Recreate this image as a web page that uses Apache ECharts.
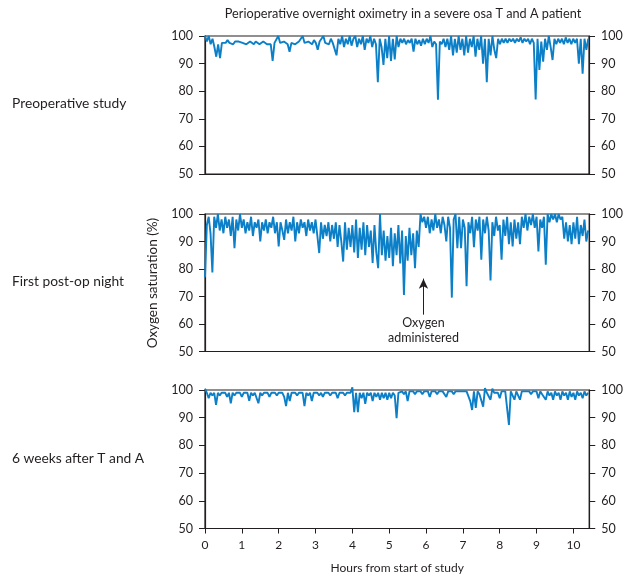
<!DOCTYPE html>
<html>
<head>
<meta charset="utf-8">
<script src="https://cdn.jsdelivr.net/npm/echarts@6/dist/echarts.min.js"></script>
<style>
html,body{margin:0;padding:0;background:#fff;}
#chart{width:626px;height:577px;}
</style>
</head>
<body>
<div id="chart"></div>
<script>
// ---- data (oxygen saturation %, one sample every SAMPLE_STEP hours) ----
const SAMPLE_STEP = 0.05;
const titleText = 'Perioperative overnight oximetry in a severe osa T and A patient';
const panelNames = ['Preoperative study', 'First post-op night', '6 weeks after T and A'];
const xTickValues = [0, 1, 2, 3, 4, 5, 6, 7, 8, 9, 10];
const yTickValues = [50, 60, 70, 80, 90, 100];
const xAxisName = 'Hours from start of study';
const yAxisName = 'Oxygen saturation (%)';
const annotationText = 'Oxygen\nadministered';
const annotationHour = 5.93;
const annotationArrow = [63.4, 76.5];
const annotationTextLevel = 57.5;

const preoperative = [
 100, 98, 100, 97, 99, 96, 92.5, 97, 92, 97.5,
 98, 97.5, 98.5, 97.5, 98, 97, 98, 97.5, 98, 97.5,
 97.5, 98, 97, 97.5, 98, 97.5, 97, 98, 97.5, 97,
 97.5, 98, 97.5, 97, 97.5, 97, 91, 97.5, 97, 100,
 97.5, 97, 98, 97.5, 97, 94.3, 97.5, 98, 97, 97.5,
 98, 97.5, 100, 97.5, 97, 98, 97.5, 97, 98.5, 97.5,
 95, 98, 97.5, 100, 97.5, 98, 97, 99, 97.5, 98,
 93, 99, 97, 100, 96, 99, 97, 100, 96.5, 99,
 100, 96, 99, 97, 100, 95, 99, 97.5, 100, 96,
 99, 97, 83.3, 99, 96, 89.5, 99, 92, 100, 91,
 99, 91.5, 100, 96, 99, 97.5, 99, 97, 98.5, 97.5,
 99, 94.3, 99, 97, 98.5, 96.5, 99, 97, 99, 97.5,
 100, 96, 98, 97, 76.9, 98, 97, 99, 96, 99,
 95, 100, 93, 99, 94, 100, 95, 99, 93, 100,
 94, 99, 96, 100, 92.5, 99, 95, 100, 90, 99,
 83.3, 99, 93, 100, 95, 92, 99, 97, 99, 97.5,
 99, 97.5, 99, 98, 99, 97.5, 99, 98, 99.5, 97.5,
 99, 98, 99, 97, 99, 97.5, 77, 99, 87.7, 98,
 90.7, 99, 95, 100, 96, 91.3, 99, 97, 99, 97.5,
 99, 97, 99.5, 97.5, 99, 97, 99, 97.5, 99, 90,
 99, 86.3, 99, 95, 99
];

const firstPostOp = [
 77, 96, 99, 93, 78.7, 99, 95, 100, 94, 98,
 93, 99, 95, 98, 92, 99, 87.6, 98, 94, 100,
 95, 98, 93, 97, 94, 99, 92, 97, 95, 98,
 90, 97, 94, 98, 93, 97, 95, 99, 93, 97,
 88.2, 97, 94, 90.6, 98, 93, 97, 94, 99, 90,
 97, 93, 98, 95, 97, 92, 98, 94, 97, 93,
 98, 92, 85.8, 97, 91, 96, 92, 97, 90, 96,
 91, 97, 88, 96, 90, 82.7, 97, 87, 95, 88,
 96, 86, 98, 84, 95, 87, 97, 85, 96, 88,
 94, 82.2, 96, 86, 80.3, 100, 85, 94, 83, 92,
 84, 95, 81, 93, 85, 96, 82, 94, 70.6, 92,
 83, 95, 85, 93, 80.3, 94, 88, 100, 97, 99,
 95, 99, 93, 98, 94, 100, 95, 98, 93, 99,
 96, 90, 99, 95, 69.6, 98, 100, 87.6, 99, 87.6,
 98, 95, 73.7, 97, 93, 99, 87.9, 98, 94, 99,
 83.4, 98, 93, 99, 94, 75.8, 97, 92, 99, 94,
 96, 83.4, 98, 92, 99, 89, 97, 88.2, 98, 91,
 97, 89, 99, 95, 100, 94, 99, 96, 100, 95,
 99, 86.4, 98, 95, 99, 81.6, 100, 97, 100, 98,
 100, 97, 100, 98, 99, 91, 97, 90, 96, 89,
 97, 91, 99, 89, 96, 92, 98, 90, 94
];

const sixWeeksAfter = [
 100.5, 99, 97, 99, 98, 99, 94.6, 99, 98, 99,
 98.5, 99, 97.5, 99, 95.2, 99, 98, 99, 98.5, 99,
 97.5, 99, 98.5, 99, 96.1, 99, 98, 99, 98.5, 95.2,
 99, 98, 99, 98.5, 99, 97.5, 99, 98.5, 99, 98,
 99, 98.5, 99, 97.5, 94.2, 99, 96, 99, 98.5, 99,
 98, 99, 98.5, 99, 94.2, 99, 98, 99, 96, 99,
 98.5, 99, 98, 99, 97.5, 99, 98.5, 99, 98, 99,
 98.5, 99, 97, 99, 98.5, 99, 98, 99, 98.5, 99,
 101, 92, 99, 92, 99, 97, 99, 95, 99, 98,
 99, 96, 99, 97.5, 99, 96.5, 99, 97, 99, 96.5,
 99, 97, 99, 98, 89.8, 99, 98.5, 99.5, 98.5, 99.5,
 96, 99.5, 99, 99.5, 98.5, 99.5, 99, 99.5, 98.5, 99.5,
 99, 99.5, 97.5, 99.5, 99, 99.5, 98.5, 99.5, 99, 99.5,
 99, 97.5, 99.5, 99, 99.5, 98.5, 99.5, 99, 99.5, 99,
 99.5, 99, 99.5, 99, 96, 92.8, 99.5, 93.5, 99.5, 98.5,
 99, 94, 100.7, 99, 99.5, 96.5, 100.5, 99, 99.5, 99,
 97, 99.5, 99, 99.5, 99, 87.4, 99.5, 99, 96.5, 99.5,
 99, 96.5, 99.5, 99, 99.5, 99, 99.5, 98.5, 99.5, 99,
 99.5, 97, 99.5, 98.5, 99, 96.5, 99.5, 98, 99, 96.5,
 99.5, 98, 99, 96.5, 99.5, 98, 99, 96.5, 99.5, 97.5,
 99, 96.5, 99.5, 98, 99, 97, 99.5, 98, 99
];

const panelSeries = [preoperative, firstPostOp, sixWeeksAfter];
const panelXMax = [10.22, 10.43, 10.43];

// ---- layout / styles ----
const FONT = 'Lato';
const TXT = '#231f20';
const LINE = '#0b7fc7';
const AX = '#231f20';
const grids = [
  {left: 205, right: 37, top: 36, height: 138},
  {left: 205, right: 29, top: 214, height: 137.5},
  {left: 205, right: 29, top: 390, height: 138.5}
];

function toPairs(arr) {
  return arr.map((v, i) => [i * SAMPLE_STEP, v]);
}

const xAxes = [], yAxes = [], series = [];
grids.forEach((g, k) => {
  const last = k === 2;
  xAxes.push({
    type: 'value', gridIndex: k, min: 0, max: panelXMax[k],
    axisLine: {show: true, onZero: false, lineStyle: {color: AX, width: 1.2}},
    axisTick: {show: last, length: 5, inside: false, customValues: xTickValues, lineStyle: {color: AX, width: 1}},
    axisLabel: {show: last, customValues: xTickValues, margin: 11, fontFamily: FONT, fontSize: 12, color: TXT},
    splitLine: {show: false},
    name: last ? xAxisName : '', nameLocation: 'middle', nameGap: 34,
    nameTextStyle: {fontFamily: FONT, fontSize: 12, color: TXT}
  });
  ['left', 'right'].forEach(pos => {
    yAxes.push({
      type: 'value', gridIndex: k, position: pos, min: 50, max: 100, interval: 10,
      axisLine: {show: true, lineStyle: {color: AX, width: 1.2}},
      axisTick: {show: true, length: 6, inside: false, lineStyle: {color: AX, width: 1}},
      axisLabel: {show: true, margin: 12, fontFamily: FONT, fontSize: 12.5, color: TXT},
      splitLine: {show: false}
    });
  });
  const s = {
    type: 'line', xAxisIndex: k, yAxisIndex: k * 2,
    data: toPairs(panelSeries[k]),
    showSymbol: false, symbol: 'none', clip: false, animation: false,
    lineStyle: {color: LINE, width: 1.9}, z: 2
  };
  if (k === 1) {
    s.markLine = {
      silent: true, animation: false, symbol: ['none', 'arrow'], symbolSize: [7, 10],
      lineStyle: {color: AX, width: 1, type: 'solid'}, label: {show: false},
      data: [[{coord: [annotationHour, annotationArrow[0]]}, {coord: [annotationHour, annotationArrow[1]]}]]
    };
    s.markPoint = {
      silent: true, animation: false, symbol: 'circle', symbolSize: 0,
      label: {show: true, position: 'inside', formatter: annotationText, fontFamily: FONT, fontSize: 12.5, lineHeight: 15, color: TXT, align: 'center'},
      data: [{coord: [annotationHour, annotationTextLevel]}]
    };
  }
  series.push(s);
});

const chart = echarts.init(document.getElementById('chart'), null, {renderer: 'canvas'});
chart.setOption({
  animation: false,
  backgroundColor: '#fff',
  grid: grids.map(g => Object.assign({show: true, borderColor: AX, borderWidth: 1.2, backgroundColor: 'transparent', containLabel: false}, g)),
  xAxis: xAxes,
  yAxis: yAxes,
  series: series,
  graphic: [
    {type: 'text', x: 403, y: 14, style: {text: titleText, fontFamily: FONT, fontSize: 12.7, fill: TXT, align: 'center', verticalAlign: 'middle'}},
    {type: 'text', x: 12, y: 104, style: {text: panelNames[0], fontFamily: FONT, fontSize: 13.8, fill: TXT, verticalAlign: 'middle'}},
    {type: 'text', x: 12, y: 282, style: {text: panelNames[1], fontFamily: FONT, fontSize: 13.8, fill: TXT, verticalAlign: 'middle'}},
    {type: 'text', x: 12, y: 459, style: {text: panelNames[2], fontFamily: FONT, fontSize: 13.8, fill: TXT, verticalAlign: 'middle'}},
    {type: 'text', x: 153, y: 283, rotation: Math.PI / 2, style: {text: yAxisName, fontFamily: FONT, fontSize: 13.5, fill: TXT, align: 'center', verticalAlign: 'middle'}}
  ]
});
</script>
</body>
</html>
